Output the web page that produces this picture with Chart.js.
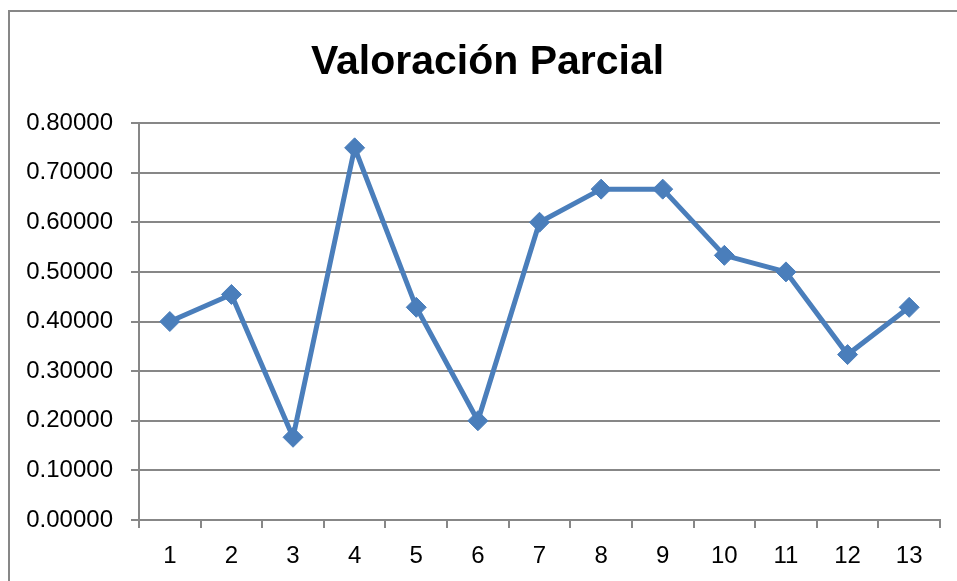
<!DOCTYPE html>
<html>
<head>
<meta charset="utf-8">
<script src="https://cdn.jsdelivr.net/npm/chart.js@4"></script>
<style>
  html, body { margin: 0; padding: 0; background: #fff; overflow: hidden; }
  #wrap { position: relative; width: 957px; height: 581px; }
  #frame { position: absolute; left: 8px; top: 10px; width: 1000px; height: 1000px;
           border-left: 2px solid #878787; border-top: 2px solid #878787; box-sizing: border-box; }
  canvas { position: absolute; left: 0; top: 0; }
  #title { position: absolute; left: 0; width: 975px; top: 36px; text-align: center;
           font-family: 'Liberation Sans', Arial, sans-serif; font-weight: bold; font-size: 41px;
           line-height: 48px; color: #000; z-index: 2; }
</style>
</head>
<body>
<div id="wrap">
  <div id="frame"></div>
  <canvas id="c" width="957" height="581"></canvas>
  <div id="title"></div>
</div>
<script>
const chartTitle = "Valoración Parcial";
const categories = ["1","2","3","4","5","6","7","8","9","10","11","12","13"];
const values = [0.4, 0.4545, 0.1667, 0.75, 0.4286, 0.2, 0.6, 0.6667, 0.6667, 0.5333, 0.5, 0.3333, 0.4286];
const yTicks = [0, 0.1, 0.2, 0.3, 0.4, 0.5, 0.6, 0.7, 0.8];

document.getElementById('title').textContent = chartTitle;

const FONT = "'Liberation Sans', Arial, sans-serif";
const GRID = "#878787";
const BLUE = "#4A7EBB";

new Chart(document.getElementById('c'), {
  type: 'line',
  data: {
    labels: categories,
    datasets: [{
      data: values,
      borderColor: BLUE,
      backgroundColor: BLUE,
      borderWidth: 5,
      pointStyle: 'rectRot',
      pointRadius: 10,
      pointBorderWidth: 1,
      pointBackgroundColor: BLUE,
      pointBorderColor: BLUE,
      tension: 0,
      fill: false
    }]
  },
  options: {
    responsive: false,
    animation: false,
    devicePixelRatio: 1,
    layout: { padding: { left: 0, right: 17, top: 123, bottom: 0 } },
    plugins: {
      legend: { display: false },
      tooltip: { enabled: false },
      title: { display: false }
    },
    scales: {
      x: {
        offset: true,
        grid: { offset: true, drawOnChartArea: false, color: GRID, lineWidth: 2, tickLength: 8 },
        border: { color: GRID, width: 2 },
        ticks: { color: '#000', font: { family: FONT, size: 24 }, padding: 14, maxRotation: 0, autoSkip: false },
        afterFit: s => { s.height = 61; }
      },
      y: {
        min: 0, max: 0.8,
        afterBuildTicks: s => { s.ticks = yTicks.map(v => ({ value: v })); },
        grid: { color: GRID, lineWidth: 2, tickLength: 8 },
        border: { color: GRID, width: 2 },
        ticks: { color: '#000', font: { family: FONT, size: 24 }, padding: 18,
                 callback: v => Number(v).toFixed(5) },
        afterFit: s => { s.width = 139; }
      }
    }
  }
});
</script>
</body>
</html>
